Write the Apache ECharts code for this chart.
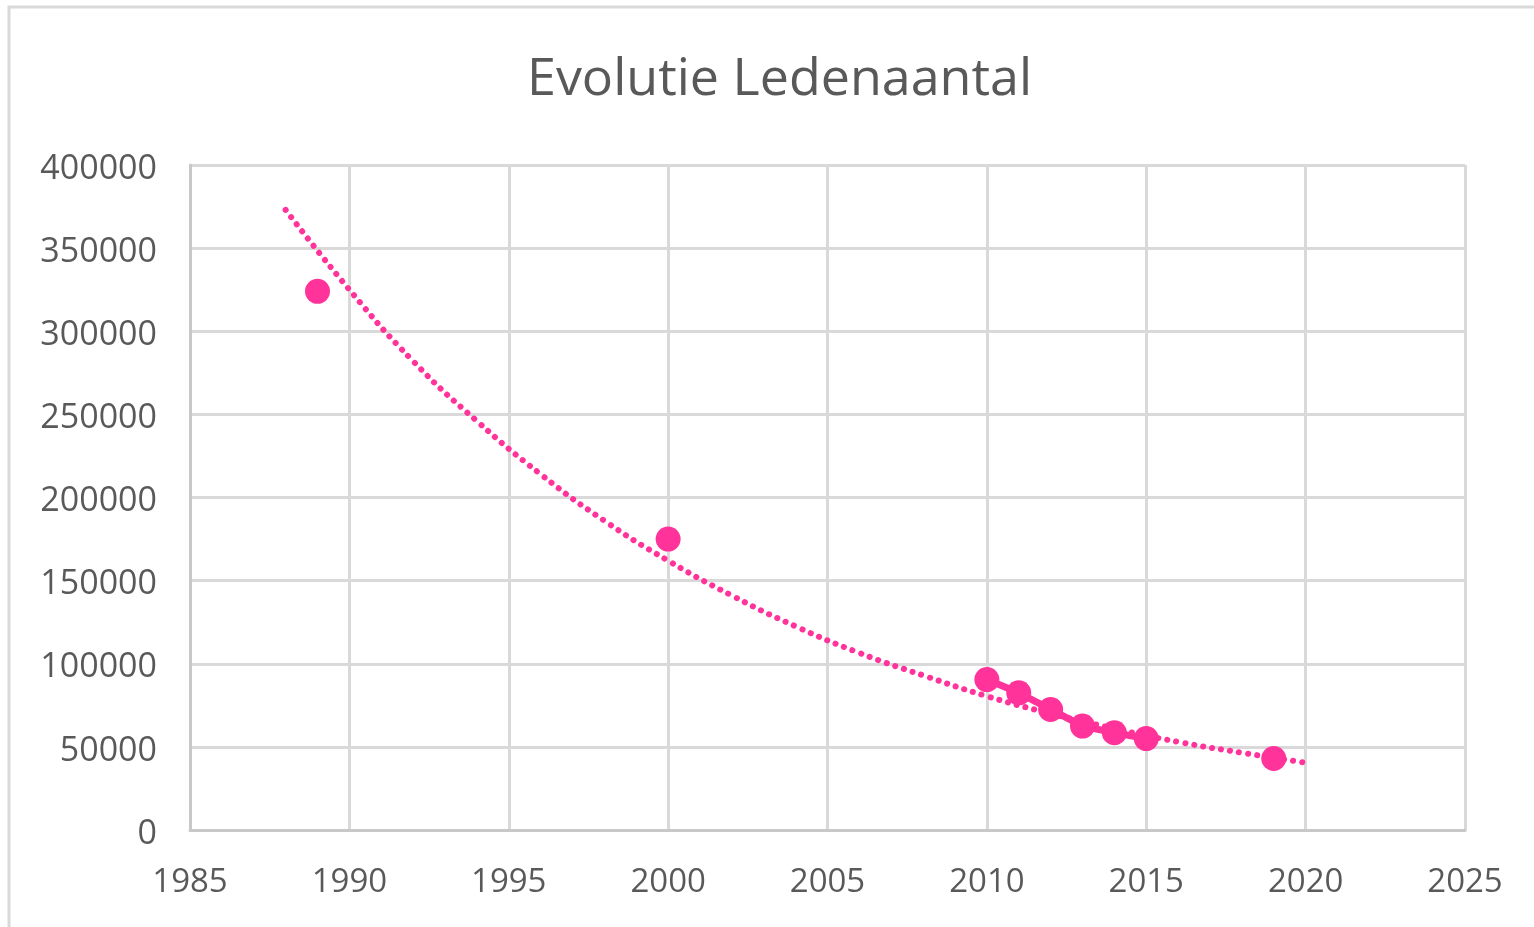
<!DOCTYPE html>
<html><head><meta charset="utf-8">
<script src="https://cdn.jsdelivr.net/npm/echarts@6/dist/echarts.min.js"></script>
<style>html,body{margin:0;padding:0;background:#fff}#c{width:1534px;height:927px}</style>
</head><body><div id="c"></div>
<script>
const title = 'Evolutie Ledenaantal';
const years = [1989, 2000, 2010, 2011, 2012, 2013, 2014, 2015, 2019];
const members = [324000, 175000, 90500, 82500, 72500, 62500, 58500, 55000, 43000];
const trendYears = [1988, 1990, 1992, 1994, 1996, 1998, 2000, 2002, 2004, 2006, 2008, 2010, 2012, 2014, 2016, 2018, 2020];
const trendValues = [373000, 325000, 282000, 246000, 214000, 186000, 162000, 141000, 122500, 106500, 93000, 80500, 70000, 61000, 53000, 46500, 40500];
const xTicks = [1985, 1990, 1995, 2000, 2005, 2010, 2015, 2020, 2025];
const yTicks = [0, 50000, 100000, 150000, 200000, 250000, 300000, 350000, 400000];

const pink = '#FF3399';
const font = '"Open Sans", sans-serif';
// break the line where years are not consecutive
const data = [];
years.forEach((y, i) => {
  if (i > 0 && y - years[i - 1] > 1) data.push([y - 0.5, '-']);
  data.push([y, members[i]]);
});
const trend = trendYears.map((y, i) => [y, trendValues[i]]);

const chart = echarts.init(document.getElementById('c'), null, {renderer: 'canvas'});
chart.setOption({
  animation: false,
  backgroundColor: '#fff',
  graphic: [{type: 'rect', shape: {x: 9, y: 7, width: 1600, height: 1000}, style: {fill: 'none', stroke: '#d9d9d9', lineWidth: 3}, z: -1}],
  title: {text: title, left: 522, top: 49, textStyle: {fontFamily: font, fontSize: 52, fontWeight: 'normal', color: '#595959'}},
  grid: {left: 190, right: 69, top: 165, bottom: 97},
  xAxis: {
    type: 'value', min: xTicks[0], max: xTicks[xTicks.length - 1], interval: 5,
    axisLine: {show: true, onZero: false, lineStyle: {color: '#c8c8c8', width: 3}},
    axisTick: {show: false},
    splitLine: {show: true, lineStyle: {color: '#d9d9d9', width: 3}},
    axisLabel: {margin: 36, color: '#595959', fontFamily: font, fontSize: 33, formatter: v => String(v)}
  },
  yAxis: {
    type: 'value', min: yTicks[0], max: yTicks[yTicks.length - 1], interval: 50000,
    axisLine: {show: true, lineStyle: {color: '#c8c8c8', width: 3}},
    axisTick: {show: false},
    splitLine: {show: true, lineStyle: {color: '#d9d9d9', width: 3}},
    axisLabel: {margin: 33, color: '#595959', fontFamily: font, fontSize: 34, verticalAlign: 'top', lineHeight: 8, formatter: v => String(v)}
  },
  series: [
    {type: 'line', data: trend, smooth: true, symbol: 'none', z: 3,
     lineStyle: {color: pink, width: 6, type: [0.1, 9], cap: 'round'}},
    {type: 'line', data: data, connectNulls: false, symbol: 'circle', symbolSize: 25, z: 4,
     itemStyle: {color: pink}, lineStyle: {color: pink, width: 7}}
  ]
});
</script></body></html>
